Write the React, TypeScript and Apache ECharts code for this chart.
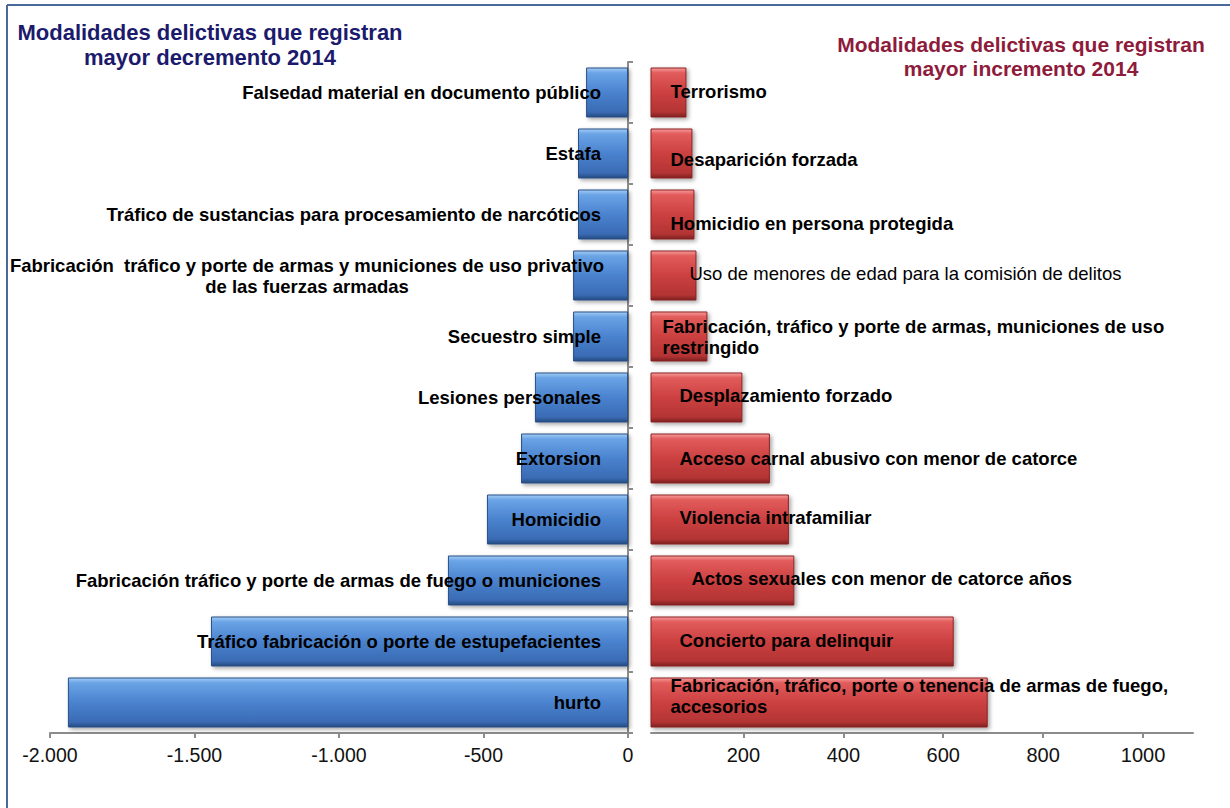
import React, { useEffect, useRef } from "react";
import * as echarts from "echarts";

const leftCategories = [
  "Falsedad material en documento público",
  "Estafa",
  "Tráfico de sustancias para procesamiento de narcóticos",
  "Fabricación  tráfico y porte de armas y municiones de uso privativo\nde las fuerzas armadas",
  "Secuestro simple",
  "Lesiones personales",
  "Extorsion",
  "Homicidio",
  "Fabricación tráfico y porte de armas de fuego o municiones",
  "Tráfico fabricación o porte de estupefacientes",
  "hurto",
];
const leftValues = [-145, -173, -173, -190, -190, -322, -370, -488, -623, -1443, -1938];

const rightCategories = [
  "Terrorismo",
  "Desaparición forzada",
  "Homicidio en persona protegida",
  "Uso de menores de edad para la comisión de delitos",
  "Fabricación, tráfico y porte de armas, municiones de uso\nrestringido",
  "Desplazamiento forzado",
  "Acceso carnal abusivo con menor de catorce",
  "Violencia intrafamiliar",
  "Actos sexuales con menor de catorce años",
  "Concierto para delinquir",
  "Fabricación, tráfico, porte o tenencia de armas de fuego,\naccesorios",
];
const rightValues = [86, 98, 102, 106, 128, 198, 253, 291, 302, 621, 689];

const leftTicks = [-2000, -1500, -1000, -500, 0];
const rightTicks = [200, 400, 600, 800, 1000];

const leftTitle = "Modalidades delictivas que registran\nmayor decremento 2014";
const rightTitle = "Modalidades delictivas que registran\nmayor incremento 2014";

// label styling offsets (layout only)
const rightLabelOffsets: number[][] = [
  [20, -1], [20, 6], [20, 9], [39, -2], [12, 0], [29, -2], [29, 0], [29, -2], [41, -2], [29, -1], [20, -7],
];
const rightLabelNormalWeight = [false, false, false, true, false, false, false, false, false, false, false];

const FONT = "'Liberation Sans', Arial, sans-serif";

function fmtThousands(v: number) {
  const s = Math.abs(v).toString().replace(/\B(?=(\d{3})+(?!\d))/g, ".");
  return (v < 0 ? "-" : "") + s;
}

export default function App() {
  const ref = useRef<HTMLDivElement>(null);
  useEffect(() => {
    document.body.style.margin = "0";
    const chart = echarts.init(ref.current!, null, { renderer: "svg" });

    const blue = new echarts.graphic.LinearGradient(0, 0, 0, 1, [
      { offset: 0, color: "#a2ccf6" },
      { offset: 0.1, color: "#6aa4e6" },
      { offset: 0.5, color: "#4a82ce" },
      { offset: 0.9, color: "#3a6bb4" },
      { offset: 1, color: "#24497f" },
    ]);
    const red = new echarts.graphic.LinearGradient(0, 0, 0, 1, [
      { offset: 0, color: "#f79a9a" },
      { offset: 0.1, color: "#e25c5c" },
      { offset: 0.5, color: "#cc4040" },
      { offset: 0.9, color: "#b33434" },
      { offset: 1, color: "#7c2020" },
    ]);

    const axisLineStyle = { color: "#8c8c8c", width: 2 };

    const leftData = leftValues.map((v, i) => {
      const item: any = { value: v };
      if (leftCategories[i].includes("\n")) {
        item.label = { align: "center", offset: [-294, 0] };
      }
      return item;
    });

    const rightData = rightValues.map((v, i) => ({
      value: v,
      label: {
        offset: rightLabelOffsets[i],
        fontWeight: rightLabelNormalWeight[i] ? "normal" : "bold",
      },
    }));

    chart.setOption({
      animation: false,
      backgroundColor: "#ffffff",
      title: [
        {
          text: leftTitle,
          left: 210,
          top: 20,
          padding: 0,
          textAlign: "center",
          textStyle: {
            fontFamily: FONT,
            fontSize: 22,
            fontWeight: "bold",
            color: "#1b1a6c",
            lineHeight: 25,
          },
        },
        {
          text: rightTitle,
          left: 1021,
          top: 32,
          padding: 0,
          textAlign: "center",
          textStyle: {
            fontFamily: FONT,
            fontSize: 21,
            fontWeight: "bold",
            color: "#8e1b3b",
            lineHeight: 24,
          },
        },
      ],
      grid: [
        { left: 50, width: 578, top: 62, height: 671 },
        { left: 651, width: 542, top: 62, height: 671 },
      ],
      xAxis: [
        {
          type: "value",
          gridIndex: 0,
          min: leftTicks[0],
          max: leftTicks[leftTicks.length - 1],
          interval: 500,
          splitLine: { show: false },
          axisLine: { show: true, lineStyle: axisLineStyle },
          axisTick: { show: true, length: 5, lineStyle: axisLineStyle },
          axisLabel: {
            formatter: (v: number) => fmtThousands(v),
            fontFamily: FONT,
            fontSize: 19.5,
            color: "#111",
            margin: 12,
          },
        },
        {
          type: "value",
          gridIndex: 1,
          min: 15,
          max: 1100,
          splitLine: { show: false },
          axisLine: { show: true, lineStyle: axisLineStyle },
          axisTick: { show: true, length: 5, lineStyle: axisLineStyle, customValues: rightTicks },
          axisLabel: {
            customValues: rightTicks,
            formatter: (v: number) => String(v),
            fontFamily: FONT,
            fontSize: 20,
            color: "#111",
            margin: 12,
          },
        },
      ],
      yAxis: [
        {
          type: "category",
          gridIndex: 0,
          data: leftCategories,
          inverse: true,
          position: "right",
          axisLine: { show: true, lineStyle: axisLineStyle },
          axisTick: { show: true, length: 5, lineStyle: axisLineStyle },
          axisLabel: { show: false },
          splitLine: { show: false },
        },
        {
          type: "category",
          gridIndex: 1,
          data: rightCategories,
          inverse: true,
          axisLine: { show: false },
          axisTick: { show: false },
          axisLabel: { show: false },
          splitLine: { show: false },
        },
      ],
      series: [
        {
          type: "bar",
          xAxisIndex: 0,
          yAxisIndex: 0,
          data: leftData,
          barCategoryGap: "18%",
          itemStyle: {
            color: blue,
            borderColor: "#2a4f85",
            borderWidth: 1,
            shadowColor: "rgba(0,0,0,0.35)",
            shadowBlur: 4,
            shadowOffsetX: 2,
            shadowOffsetY: 2,
          },
          label: {
            show: true,
            position: "insideRight",
            distance: 27,
            formatter: "{b}",
            fontFamily: FONT,
            fontSize: 18.5,
            fontWeight: "bold",
            color: "#000",
            lineHeight: 21,
          },
        },
        {
          type: "bar",
          xAxisIndex: 1,
          yAxisIndex: 1,
          data: rightData,
          barCategoryGap: "18%",
          itemStyle: {
            color: red,
            borderColor: "#8a2424",
            borderWidth: 1,
            shadowColor: "rgba(0,0,0,0.35)",
            shadowBlur: 4,
            shadowOffsetX: 2,
            shadowOffsetY: 2,
          },
          label: {
            show: true,
            position: "insideLeft",
            distance: 0,
            formatter: "{b}",
            fontFamily: FONT,
            fontSize: 18.5,
            fontWeight: "bold",
            color: "#000",
            lineHeight: 21,
          },
        },
      ],
      graphic: [
        {
          type: "line",
          shape: { x1: 7, y1: 5, x2: 7, y2: 808 },
          style: { stroke: "#4a6a9e", lineWidth: 2 },
        },
        {
          type: "line",
          shape: { x1: 7, y1: 5, x2: 1230, y2: 5 },
          style: { stroke: "#4a6a9e", lineWidth: 2 },
        },
      ],
    });
    return () => chart.dispose();
  }, []);
  return <div ref={ref} style={{ width: 1230, height: 808 }} />;
}
